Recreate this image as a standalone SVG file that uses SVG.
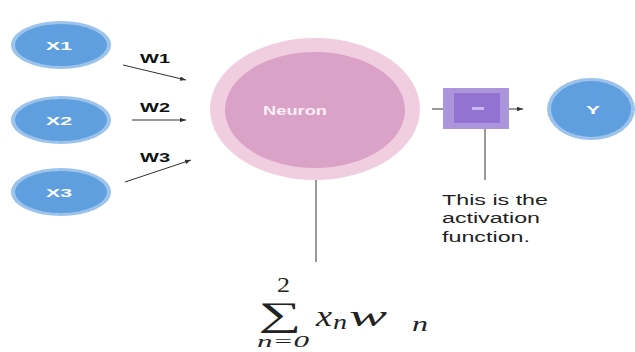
<svg xmlns="http://www.w3.org/2000/svg" width="635" height="352" viewBox="0 0 635 352">
<defs>
<style>
.in-ring{fill:#9cc3ec}
.in-core{fill:#5f9fdf}
.lbl{font-family:"Liberation Sans",Arial,sans-serif;font-size:11px;font-weight:bold;fill:#ffffff}
.w{font-family:"Liberation Sans",Arial,sans-serif;font-size:13px;font-weight:bold;fill:#111111}
.conn{stroke:#333333;stroke-width:1;fill:none}
.note{font-family:"Liberation Sans",Arial,sans-serif;font-size:14px;fill:#222222}
.math{font-family:"Liberation Serif","Times New Roman",serif;fill:#222222;font-style:italic}
.up{font-family:"Liberation Serif","Times New Roman",serif;fill:#222222}
</style>
<marker id="ah" viewBox="0 0 8 6" refX="8" refY="3" markerWidth="6" markerHeight="4.5" orient="auto" markerUnits="userSpaceOnUse">
<path d="M0,0 L8,3 L0,6 z" fill="#333333"/>
</marker>
</defs>
<rect width="635" height="352" fill="#ffffff"/>

<g id="x1">
<ellipse class="in-ring" cx="61" cy="45" rx="50" ry="24"/>
<ellipse class="in-core" cx="61" cy="45" rx="46" ry="21"/>
<text class="lbl" x="46" y="50" textLength="26" lengthAdjust="spacingAndGlyphs">X1</text>
</g>
<g id="x2">
<ellipse class="in-ring" cx="61" cy="120" rx="50" ry="24"/>
<ellipse class="in-core" cx="61" cy="120" rx="46" ry="21"/>
<text class="lbl" x="46" y="125" textLength="26" lengthAdjust="spacingAndGlyphs">X2</text>
</g>
<g id="x3">
<ellipse class="in-ring" cx="61" cy="192" rx="50" ry="24"/>
<ellipse class="in-core" cx="61" cy="192" rx="46" ry="21"/>
<text class="lbl" x="46" y="197" textLength="26" lengthAdjust="spacingAndGlyphs">X3</text>
</g>

<g id="neuron">
<ellipse cx="315" cy="109" rx="105" ry="71" fill="#f1cde0"/>
<ellipse cx="315" cy="110" rx="90" ry="58" fill="#d9a2c6"/>
<text x="263" y="115" font-family="Liberation Sans, Arial, sans-serif" font-size="12" font-weight="bold" fill="#fbeef6" textLength="64" lengthAdjust="spacingAndGlyphs">Neuron</text>
</g>

<g id="activation">
<rect x="443" y="88" width="66" height="41" fill="#ad95de"/>
<rect x="454" y="93" width="46" height="30" fill="#9373d2"/>
<rect x="472" y="107" width="12" height="3" fill="#c9b8ee"/>
</g>

<g id="y">
<ellipse cx="591" cy="109" rx="44" ry="31" fill="#9cc3ec"/>
<ellipse cx="591" cy="109" rx="40" ry="28" fill="#5f9fdf"/>
<text class="lbl" x="586" y="114" textLength="14" lengthAdjust="spacingAndGlyphs">Y</text>
</g>

<g id="connectors">
<line class="conn" x1="123" y1="65" x2="186" y2="80" marker-end="url(#ah)"/>
<line class="conn" x1="132" y1="120" x2="186" y2="120" marker-end="url(#ah)"/>
<line class="conn" x1="125" y1="182" x2="191" y2="160" marker-end="url(#ah)"/>
<line class="conn" x1="316" y1="180" x2="316" y2="262"/>
<line class="conn" x1="432" y1="109" x2="443" y2="109"/>
<line class="conn" x1="509" y1="109" x2="523" y2="109" marker-end="url(#ah)"/>
<line class="conn" x1="485" y1="129" x2="485" y2="180"/>
</g>

<g id="labels">
<text class="w" x="140" y="63" textLength="30" lengthAdjust="spacingAndGlyphs">W1</text>
<text class="w" x="140" y="112" textLength="30" lengthAdjust="spacingAndGlyphs">W2</text>
<text class="w" x="140" y="162" textLength="30" lengthAdjust="spacingAndGlyphs">W3</text>
<text class="note" x="442" y="205" textLength="106" lengthAdjust="spacingAndGlyphs">This is the</text>
<text class="note" x="442" y="223" textLength="98" lengthAdjust="spacingAndGlyphs">activation</text>
<text class="note" x="442" y="242" textLength="88" lengthAdjust="spacingAndGlyphs">function.</text>
</g>

<g id="formula">
<text class="up" x="277" y="292" font-size="22" textLength="13" lengthAdjust="spacingAndGlyphs">2</text>
<text class="up" x="258" y="326" font-size="34" textLength="43" lengthAdjust="spacingAndGlyphs">∑</text>
<text class="math" x="257" y="347" font-size="16" textLength="52" lengthAdjust="spacingAndGlyphs">n=0</text>
<text class="math" x="316" y="326" font-size="30" textLength="16" lengthAdjust="spacingAndGlyphs">x</text>
<text class="math" x="333" y="329" font-size="20" textLength="14" lengthAdjust="spacingAndGlyphs">n</text>
<text class="math" x="349" y="326" font-size="30" textLength="38" lengthAdjust="spacingAndGlyphs">w</text>
<text class="math" x="412" y="331" font-size="20" textLength="16" lengthAdjust="spacingAndGlyphs">n</text>
</g>
</svg>
